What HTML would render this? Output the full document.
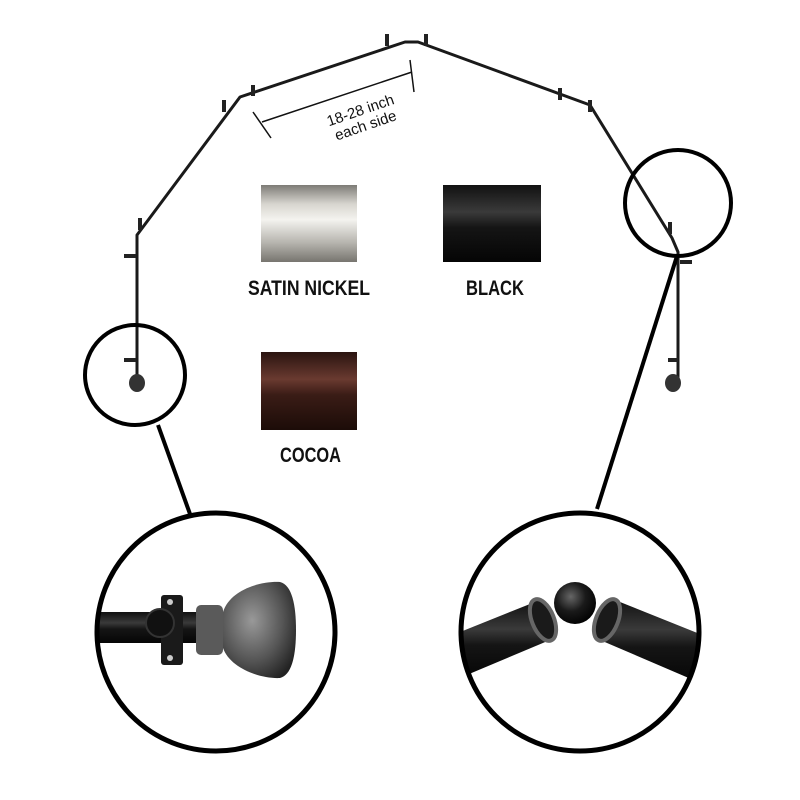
<!DOCTYPE html>
<html><head><meta charset="utf-8"><style>
html,body{margin:0;padding:0;background:#fff;width:800px;height:800px;overflow:hidden}
text{font-family:"Liberation Sans",sans-serif}
</style></head><body>
<svg width="800" height="800" viewBox="0 0 800 800" xmlns="http://www.w3.org/2000/svg">
<defs>
<linearGradient id="sn" x1="0" y1="0" x2="0" y2="1">
<stop offset="0" stop-color="#7d7b76"/><stop offset=".25" stop-color="#d8d6d0"/><stop offset=".45" stop-color="#f4f3ef"/><stop offset=".75" stop-color="#b6b4ae"/><stop offset="1" stop-color="#77756f"/></linearGradient>
<linearGradient id="bk" x1="0" y1="0" x2="0" y2="1">
<stop offset="0" stop-color="#111"/><stop offset=".35" stop-color="#3a3a3a"/><stop offset=".55" stop-color="#151515"/><stop offset="1" stop-color="#050505"/></linearGradient>
<linearGradient id="cc" x1="0" y1="0" x2="0" y2="1">
<stop offset="0" stop-color="#2a1410"/><stop offset=".35" stop-color="#6a3a30"/><stop offset=".55" stop-color="#3a1c16"/><stop offset="1" stop-color="#1c0c08"/></linearGradient>
<radialGradient id="fin" cx=".4" cy=".4" r=".7"><stop offset="0" stop-color="#999"/><stop offset=".6" stop-color="#555"/><stop offset="1" stop-color="#222"/></radialGradient>
<radialGradient id="ball" cx=".4" cy=".35" r=".7"><stop offset="0" stop-color="#666"/><stop offset=".5" stop-color="#1a1a1a"/><stop offset="1" stop-color="#000"/></radialGradient>
</defs>
<!-- rod -->
<polyline points="137,380 137,235 240,97 405,42 418,42 590,105 672,238 678,252 678,380" fill="none" stroke="#1a1a1a" stroke-width="3" stroke-linejoin="round"/>
<g stroke="#222" stroke-width="4">
<line x1="224" y1="100" x2="224" y2="112"/><line x1="253" y1="85" x2="253" y2="96"/>
<line x1="387" y1="34" x2="387" y2="46"/><line x1="426" y1="34" x2="426" y2="46"/>
<line x1="560" y1="88" x2="560" y2="100"/><line x1="590" y1="100" x2="590" y2="112"/>
<line x1="140" y1="218" x2="140" y2="230"/><line x1="670" y1="222" x2="670" y2="234"/>
<line x1="124" y1="256" x2="136" y2="256"/><line x1="680" y1="262" x2="692" y2="262"/>
<line x1="124" y1="360" x2="136" y2="360"/><line x1="668" y1="360" x2="678" y2="360"/>
</g>
<ellipse cx="137" cy="383" rx="8" ry="9" fill="#333"/><ellipse cx="673" cy="383" rx="8" ry="9" fill="#333"/>
<!-- dimension -->
<g stroke="#111" stroke-width="1.5"><line x1="262" y1="122" x2="412" y2="72"/><line x1="253" y1="112" x2="271" y2="138"/><line x1="410" y1="60" x2="414" y2="92"/></g>
<g transform="translate(362,115) rotate(-19)" font-size="15" fill="#111" text-anchor="middle"><text x="0" y="0">18-28 inch</text><text x="0" y="16">each side</text></g>
<!-- swatches -->
<rect x="261" y="185" width="96" height="77" fill="url(#sn)"/>
<rect x="443" y="185" width="98" height="77" fill="url(#bk)"/>
<rect x="261" y="352" width="96" height="78" fill="url(#cc)"/>
<g font-size="21" font-weight="bold" fill="#111">
<text x="248" y="295" textLength="122" lengthAdjust="spacingAndGlyphs">SATIN NICKEL</text>
<text x="466" y="295" textLength="58" lengthAdjust="spacingAndGlyphs">BLACK</text>
<text x="280" y="462" textLength="61" lengthAdjust="spacingAndGlyphs">COCOA</text></g>
<!-- callouts -->
<g fill="none" stroke="#000" stroke-width="4">
<circle cx="135" cy="375" r="50"/><circle cx="678" cy="203" r="53"/>
<line x1="158" y1="425" x2="190" y2="514"/><line x1="677" y1="256" x2="597" y2="509"/>
</g>
<clipPath id="cl"><circle cx="216" cy="632" r="118"/></clipPath>
<clipPath id="cr"><circle cx="580" cy="632" r="118"/></clipPath>
<g clip-path="url(#cl)">
<rect x="90" y="612" width="120" height="31" fill="url(#bk)"/>
<rect x="161" y="595" width="22" height="70" rx="3" fill="#1a1a1a"/>
<circle cx="170" cy="602" r="3" fill="#ccc"/><circle cx="170" cy="658" r="3" fill="#ccc"/>
<circle cx="160" cy="623" r="14" fill="#111" stroke="#333" stroke-width="2"/>
<rect x="196" y="605" width="27" height="50" rx="5" fill="#5a5a5a"/>
<path d="M223,612 C230,590 260,581 280,582 C292,585 296,605 296,630 C296,655 292,675 280,678 C260,679 230,668 223,648 Z" fill="url(#fin)"/>
</g>
<g clip-path="url(#cr)">
<polygon points="440,640 535,602 550,640 455,680" fill="url(#bk)"/>
<polygon points="615,600 720,642 705,685 600,640" fill="url(#bk)"/>
<circle cx="575" cy="603" r="21" fill="url(#ball)"/>
<ellipse cx="543" cy="620" rx="11" ry="22" fill="#1a1a1a" stroke="#666" stroke-width="4" transform="rotate(-22 543 620)"/>
<ellipse cx="607" cy="620" rx="11" ry="22" fill="#1a1a1a" stroke="#666" stroke-width="4" transform="rotate(22 607 620)"/>
</g>
<circle cx="216" cy="632" r="119" fill="none" stroke="#000" stroke-width="5"/>
<circle cx="580" cy="632" r="119" fill="none" stroke="#000" stroke-width="5"/>
</svg>
</body></html>
